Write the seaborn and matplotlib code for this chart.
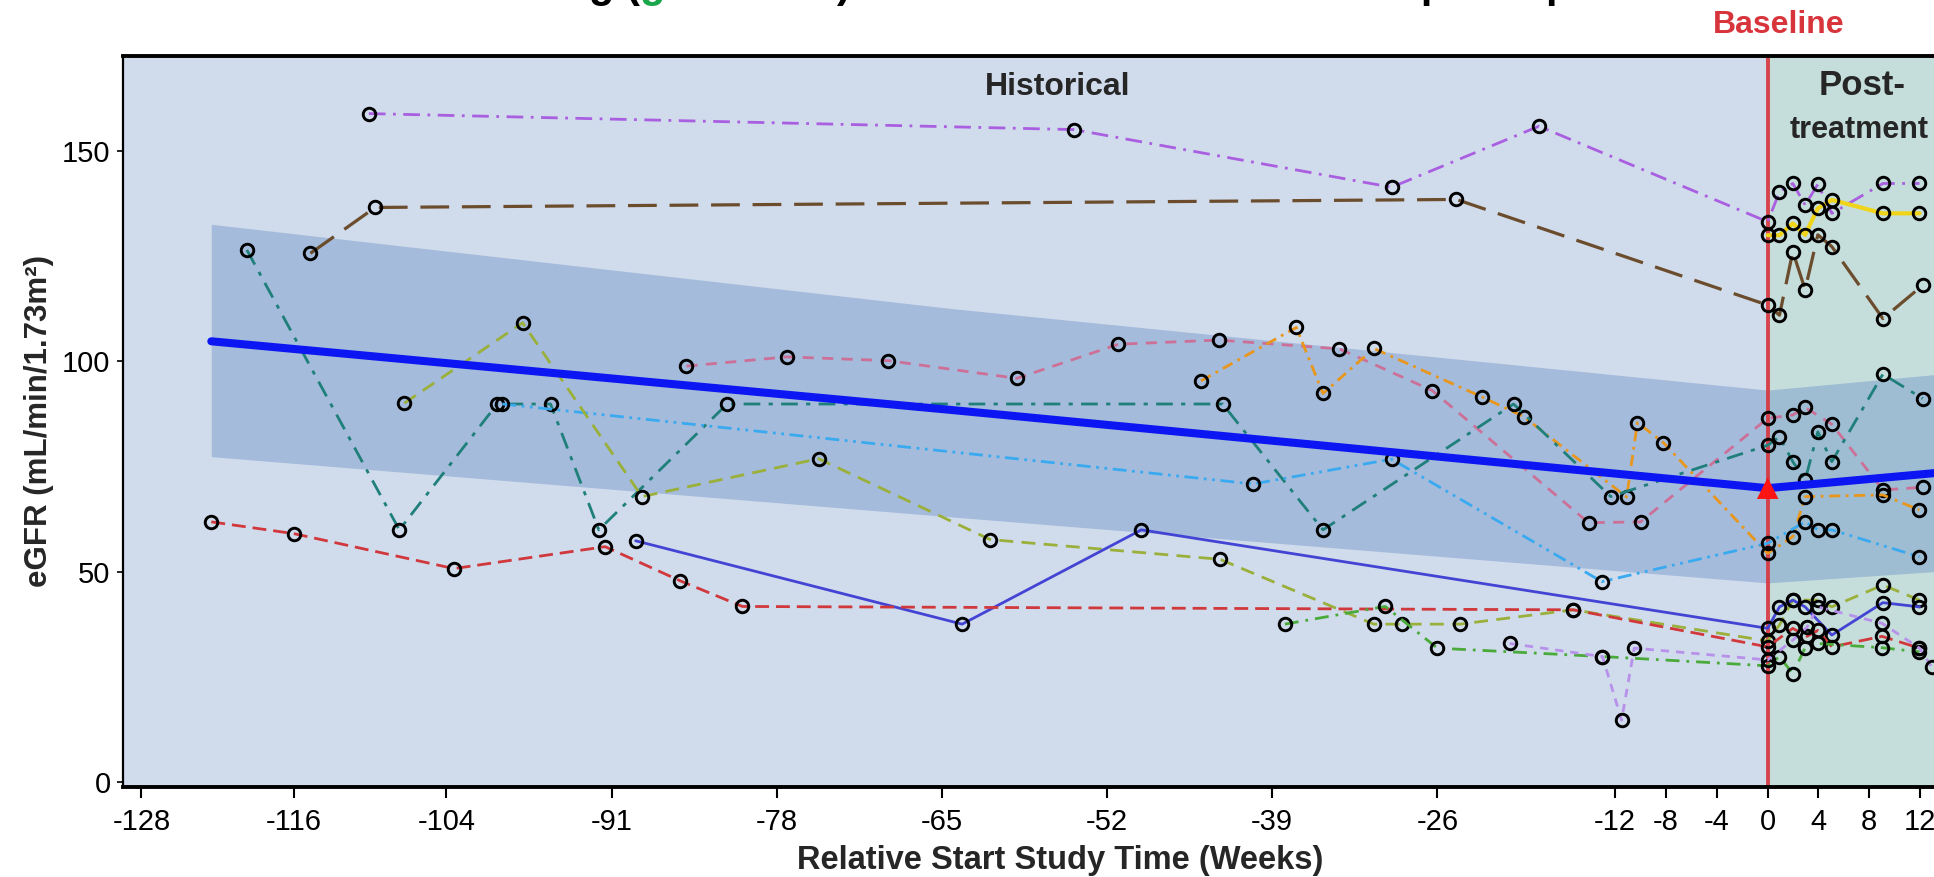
import matplotlib
matplotlib.use("Agg")
import matplotlib.pyplot as plt
import pandas as pd
import seaborn as sns

# --- individual patient eGFR trajectories (weeks relative to baseline) ---
p01_weeks = [-110.1, -54.6, -29.6, -18.0, 0.0, 0.93, 1.98, 2.95, 3.95, 5.05, 9.07, 11.95]
p01_egfr = [158.8, 155.0, 141.3, 155.8, 133.1, 140.2, 142.2, 137.1, 142.0, 135.1, 142.2, 142.2]

p02_weeks = [-114.7, -109.6, -24.5, 0.0, 0.93, 1.98, 2.95, 3.95, 5.05, 9.07, 12.2]
p02_egfr = [125.6, 136.5, 138.4, 113.3, 110.9, 126.0, 117.0, 130.0, 127.2, 110.1, 118.0]

p03_weeks = [0.0, 0.93, 1.98, 2.95, 3.95, 5.05, 9.07, 11.95]
p03_egfr = [129.9, 129.9, 132.7, 130.0, 136.3, 138.3, 135.1, 135.1]

p04_weeks = [-85.1, -77.2, -69.2, -59.1, -51.1, -43.2, -33.7, -26.4, -14.1, -10.0,
             0.0, 1.98, 2.95, 5.05, 9.07, 12.2]
p04_egfr = [98.8, 101.0, 100.1, 95.9, 104.0, 105.0, 102.9, 93.0, 61.6, 61.8,
            86.4, 87.2, 89.0, 85.0, 69.4, 70.0]

p05_weeks = [-44.6, -37.1, -35.0, -31.0, -22.5, -19.2, -11.1, -10.25, -8.2,
             0.0, 1.98, 2.95, 9.07, 11.95]
p05_egfr = [95.3, 108.0, 92.3, 103.0, 91.5, 86.8, 67.7, 85.4, 80.6,
            54.3, 58.3, 67.8, 68.2, 64.6]

p06_weeks = [-119.7, -107.7, -100.0, -95.8, -92.0, -81.9, -42.9, -35.0, -20.0, -12.35,
             0.0, 0.93, 1.98, 2.95, 3.95, 5.05, 9.07, 12.2]
p06_egfr = [126.4, 59.9, 89.8, 89.8, 59.9, 89.8, 89.8, 59.9, 89.8, 67.8,
            80.0, 82.0, 76.1, 71.7, 83.2, 76.1, 96.9, 91.1]

p07_weeks = [-99.6, -40.5, -29.6, -13.05, 0.0, 2.95, 3.95, 5.05, 11.95]
p07_egfr = [89.8, 70.8, 76.7, 47.6, 56.7, 61.8, 59.9, 59.9, 53.5]

p08_weeks = [-107.3, -98.0, -88.6, -74.7, -61.2, -43.1, -31.0, -28.8, -24.2, -15.3,
             0.0, 0.93, 1.98, 3.95, 5.05, 9.07, 11.95]
p08_egfr = [90.0, 109.1, 67.8, 76.8, 57.6, 52.9, 37.5, 37.5, 37.5, 40.9,
            33.5, 37.3, 43.2, 43.2, 41.6, 46.8, 43.2]

p09_weeks = [-89.1, -63.4, -49.3, 0.0, 0.93, 1.98, 2.95, 5.05, 9.07, 11.95]
p09_egfr = [57.3, 37.5, 59.9, 36.5, 41.6, 43.2, 41.6, 34.9, 42.6, 41.6]

p10_weeks = [-122.5, -116.0, -103.4, -91.5, -85.6, -80.7, -15.3,
             0.0, 1.98, 3.1, 3.95, 5.05, 9.0, 11.95]
p10_egfr = [61.8, 59.0, 50.7, 55.9, 47.8, 41.7, 40.9,
            32.1, 36.5, 34.6, 36.0, 32.1, 34.6, 31.8]

p11_weeks = [-38.0, -30.1, -26.0, -13.0, 0.0, 0.93, 1.98, 2.95, 3.95, 9.0, 11.95]
p11_egfr = [37.5, 41.7, 31.8, 29.8, 27.6, 29.8, 25.7, 31.9, 32.9, 31.9, 30.9]

p12_weeks = [-20.3, -13.0, -11.5, -10.5, 0.0, 1.98, 3.1, 3.95, 9.0, 11.95, 12.9]
p12_egfr = [32.9, 29.8, 14.7, 31.8, 29.0, 33.7, 36.8, 41.6, 37.7, 31.8, 27.4]

# --- model fit (mean line) and its confidence band ---
fit_weeks = [-122.5, -64.3, 0.0, 13.2]
fit_mean = [104.7, 88.4, 69.8, 73.4]
fit_upper = [132.5, 112.5, 93.1, 96.8]
fit_lower = [77.3, 63.0, 47.3, 50.0]

baseline_week = 0.0
baseline_mean = 69.8

x_ticks = [-128, -116, -104, -91, -78, -65, -52, -39, -26, -12, -8, -4, 0, 4, 8, 12]
x_tick_labels = ["-128", "-116", "-104", "-91", "-78", "-65", "-52", "-39", "-26",
                 "-12", "-8", "-4", "0", "4", "8", "12"]
y_ticks = [0, 50, 100, 150]

series = {
    "P01": (p01_weeks, p01_egfr), "P02": (p02_weeks, p02_egfr),
    "P03": (p03_weeks, p03_egfr), "P04": (p04_weeks, p04_egfr),
    "P05": (p05_weeks, p05_egfr), "P06": (p06_weeks, p06_egfr),
    "P07": (p07_weeks, p07_egfr), "P08": (p08_weeks, p08_egfr),
    "P09": (p09_weeks, p09_egfr), "P10": (p10_weeks, p10_egfr),
    "P11": (p11_weeks, p11_egfr), "P12": (p12_weeks, p12_egfr),
}

# --- styles ---
colors = {
    "P01": "#a95fe0", "P02": "#6b4c2c", "P03": "#f0d41a", "P04": "#cc7098",
    "P05": "#e8961c", "P06": "#1f7f7a", "P07": "#3aaaf0", "P08": "#9ab03a",
    "P09": "#4444d4", "P10": "#d0383c", "P11": "#4aaa3a", "P12": "#b891ea",
}
dashes = {
    "P01": (6, 2.7, 1, 2.7), "P02": (9, 4), "P03": "", "P04": (4, 3),
    "P05": (4, 2, 1, 2), "P06": (6, 3, 1.5, 3), "P07": (5, 2, 1, 2, 1, 2),
    "P08": (5, 3), "P09": "", "P10": (5, 2.5), "P11": (5, 2.5, 1, 2.5),
    "P12": (3, 2.5),
}
widths = {k: 2.0 for k in series}
widths["P03"] = 3.0
widths["P02"] = 2.3
markers = {k: "o" for k in series}

rows = []
for pid, (wk, val) in series.items():
    for w, v in zip(wk, val):
        rows.append({"patient": pid, "week": w, "egfr": v})
df = pd.DataFrame(rows)

sns.set_theme(style="white")
plt.rcParams["font.family"] = ["Liberation Sans", "DejaVu Sans"]

fig = plt.figure(figsize=(19.34, 8.77), dpi=100)
ax = fig.add_axes([0.0636, 0.1026, 0.9463, 0.8341])
ax.set_facecolor("#d0dbec")

# post-treatment shading, confidence band, baseline line
ax.axvspan(0, 30, color="#c5dddb", lw=0, zorder=0.5)
ax.fill_between(fit_weeks, fit_lower, fit_upper, color="#6f94c8", alpha=0.45, lw=0, zorder=1)
ax.axvline(0, color="#d8343c", lw=2.8, alpha=0.9, zorder=2)

sns.lineplot(data=df, x="week", y="egfr", hue="patient", style="patient", size="patient",
             palette=colors, dashes=dashes, markers=markers, sizes=widths,
             estimator=None, sort=False, legend=False, ax=ax,
             markersize=9, markerfacecolor="none", markeredgecolor="black",
             markeredgewidth=2.1, zorder=3)

sns.lineplot(x=fit_weeks, y=fit_mean, color="#0b16f2", linewidth=5.8,
             estimator=None, sort=False, ax=ax, zorder=5)
sns.scatterplot(x=[baseline_week], y=[baseline_mean], marker="^", s=240,
                color="#ff1414", edgecolor="none", ax=ax, zorder=6)

ax.set_xlim(-129.45, 14.6)
ax.set_ylim(-1.2, 172.6)
ax.set_xticks(x_ticks)
ax.set_xticklabels(x_tick_labels)
ax.set_yticks(y_ticks)
ax.tick_params(axis="x", direction="out", length=8, width=1.5, pad=7,
               labelsize=21, bottom=True, colors="black")
ax.tick_params(axis="y", direction="out", length=4, width=1.2, pad=5,
               labelsize=21, left=True, colors="black")

for side in ["top", "bottom"]:
    ax.spines[side].set_linewidth(2.8)
    ax.spines[side].set_color("black")
ax.spines["left"].set_linewidth(1.6)
ax.spines["left"].set_color("black")
ax.spines["right"].set_visible(False)

ax.set_xlabel("Relative Start Study Time (Weeks)", fontsize=23.5, fontweight="bold")
ax.xaxis.set_label_coords(0.512, -0.079)
ax.set_ylabel("eGFR (mL/min/1.73m²)", fontsize=22.5, fontweight="bold")
ax.yaxis.label.set_va("center")
ax.yaxis.set_label_coords(-0.046, 0.5)

# region labels
ax.text(-55.9, 163.2, "Historical", ha="center", va="baseline", fontsize=23, fontweight="bold")
ax.text(7.4, 163.3, "Post-", ha="center", va="baseline", fontsize=25, fontweight="bold")
ax.text(7.2, 153.0, "treatment", ha="center", va="baseline", fontsize=22, fontweight="bold")
fig.text(1779 / 1934, 1 - 33 / 877, "Baseline", ha="center", va="baseline",
         fontsize=23, fontweight="bold", color="#d8343c")

# title, mostly cut off at the top edge of the image
title_parts = ["Following (", "green line", ") to meet the criteria for each participant"]
title_colors = ["black", "#1aa64a", "black"]
renderer = fig.canvas.get_renderer()
x_px = 420
for part, col in zip(title_parts, title_colors):
    t = fig.text(x_px / 1934, 1 + 3 / 877, part, color=col, fontsize=30,
                 fontweight="bold", ha="left", va="baseline")
    x_px = t.get_window_extent(renderer=renderer).x1

fig.savefig("out.png", dpi=100)
print("Saved 'out.png'")
